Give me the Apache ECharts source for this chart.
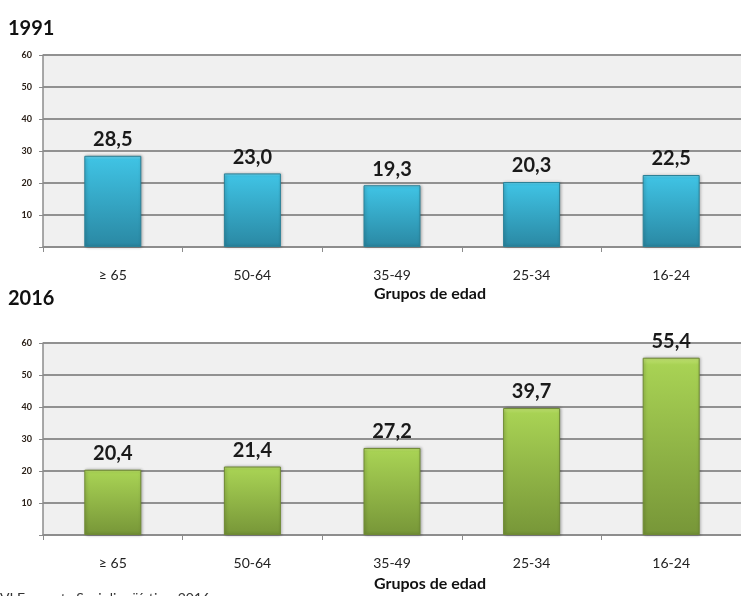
<!DOCTYPE html>
<html><head><meta charset="utf-8">
<script src="https://cdn.jsdelivr.net/npm/echarts@6/dist/echarts.min.js"></script>
<style>html,body{margin:0;padding:0;background:#fff}#c{width:741px;height:596px}</style>
</head><body><div id="c"></div>
<script>
const categories = ['≥ 65', '50-64', '35-49', '25-34', '16-24'];
const values1991 = [28.5, 23.0, 19.3, 20.3, 22.5];
const values2016 = [20.4, 21.4, 27.2, 39.7, 55.4];
const yTicks = [0, 10, 20, 30, 40, 50, 60];
const titles = ['1991', '2016'];
const axisTitle = 'Grupos de edad';
const sourceText = 'VI Encuesta Sociolingüística, 2016';

const FONT = 'Lato, "Open Sans", sans-serif';
const chart = echarts.init(document.getElementById('c'), null, {renderer: 'canvas'});

function grad(top, mid, bottom) {
  return new echarts.graphic.LinearGradient(0, 0, 0, 1, [
    {offset: 0, color: top}, {offset: 0.04, color: mid}, {offset: 1, color: bottom}
  ]);
}
function gridDef(top) {
  return {left: 43, width: 705, top: top, height: 192, show: true, backgroundColor: '#f0f0f0', borderWidth: 0, containLabel: false};
}
function xAxisDef(i) {
  return {
    type: 'category', gridIndex: i, data: categories, boundaryGap: true,
    axisLine: {lineStyle: {color: '#8c8c8c', width: 1.5}},
    axisTick: {show: true, alignWithLabel: false, length: 5, lineStyle: {color: '#8c8c8c'}},
    axisLabel: {fontFamily: FONT, fontSize: 14, color: '#222', margin: 21}
  };
}
function yAxisDef(i) {
  return {
    type: 'value', gridIndex: i, min: yTicks[0], max: yTicks[yTicks.length - 1], interval: 10,
    axisLine: {show: true, lineStyle: {color: '#8c8c8c', width: 1.5}},
    axisTick: {show: true, length: 4, lineStyle: {color: '#8c8c8c'}},
    axisLabel: {fontFamily: FONT, fontSize: 9, fontWeight: 'bold', color: '#2a2018', margin: 11,
      formatter: v => v === 0 ? '' : String(v)},
    splitLine: {show: true, lineStyle: {color: '#919191', width: 2}}
  };
}
function seriesDef(i, data, colors) {
  return {
    type: 'bar', xAxisIndex: i, yAxisIndex: i, data: data, barWidth: 57,
    itemStyle: {color: grad(colors[0], colors[1], colors[2]), borderColor: colors[3], borderWidth: 1,
      shadowColor: 'rgba(0,0,0,0.3)', shadowBlur: 3, shadowOffsetX: 1, shadowOffsetY: 0},
    label: {show: true, position: 'top', distance: 6, fontFamily: FONT, fontSize: 20, fontWeight: 'bold', color: '#1a1a1a',
      formatter: p => p.value.toFixed(1).replace('.', ',')}
  };
}

chart.setOption({
  animation: false,
  grid: [gridDef(55), gridDef(343)],
  xAxis: [xAxisDef(0), xAxisDef(1)],
  yAxis: [yAxisDef(0), yAxisDef(1)],
  series: [
    seriesDef(0, values1991, ['#74d9f2', '#3fc2e3', '#2a88a3', '#2b8197']),
    seriesDef(1, values2016, ['#c3e474', '#a8d254', '#779638', '#6f8a34'])
  ],
  graphic: [
    {type: 'text', left: 8, top: 19, style: {text: titles[0], font: 'bold 20px ' + FONT, fill: '#111'}},
    {type: 'text', left: 8, top: 289, style: {text: titles[1], font: 'bold 20px ' + FONT, fill: '#111'}},
    {type: 'text', left: 374, top: 286, style: {text: axisTitle, font: 'bold 16px ' + FONT, fill: '#111'}},
    {type: 'text', left: 374, top: 576, style: {text: axisTitle, font: 'bold 16px ' + FONT, fill: '#111'}},
    {type: 'text', left: 0, top: 591, style: {text: sourceText, font: '14px ' + FONT, fill: '#333'}}
  ]
});
</script></body></html>
